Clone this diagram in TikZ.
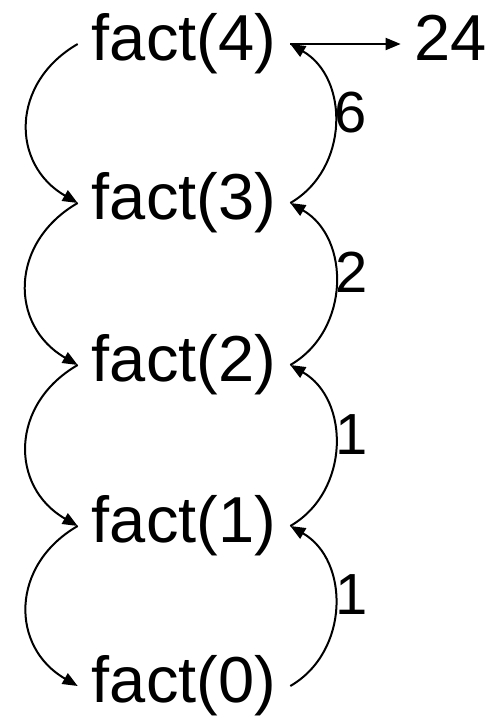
\documentclass[tikz,border=0pt]{standalone}
\usepackage{fontspec}
\setmainfont{Liberation Sans}
\usetikzlibrary{arrows.meta}

\begin{document}
\begin{tikzpicture}[x=1pt, y=1pt,
  fact/.style={inner xsep=14pt, inner ysep=0pt, font=\fontsize{65}{70}\selectfont},
  val/.style={inner sep=0pt, anchor=west, font=\fontsize{58}{62}\selectfont},
  arr/.style={line width=2pt, -{Triangle[length=15pt,width=12pt]}},
  calldown/.style={arr, out=210, in=150, looseness=1.25},
  retup/.style={arr, out=30, in=-30, looseness=1.1}]
\useasboundingbox (0,0) rectangle (500,-716);

% Calls
\node[fact] (f4) at (184,-44) {fact(4)};
\node[fact] (f3) at (184,-203) {fact(3)};
\node[fact] (f2) at (184,-365) {fact(2)};
\node[fact] (f1) at (184,-526) {fact(1)};
\node[fact] (f0) at (184,-686) {fact(0)};

% Final result
\node[fact, anchor=base] (res) at (451,-60) {24};

% Recursive calls (left side)
\draw[calldown] (f4.west) to (f3.west);
\draw[calldown] (f3.west) to (f2.west);
\draw[calldown] (f2.west) to (f1.west);
\draw[calldown] (f1.west) to (f0.west);

% Returned values (right side)
\draw[retup] (f0.east) to node[val, pos=0.56] {1} (f1.east);
\draw[retup] (f1.east) to node[val, pos=0.56] {1} (f2.east);
\draw[retup] (f2.east) to node[val, pos=0.56] {2} (f3.east);
\draw[retup] (f3.east) to node[val, pos=0.56] {6} (f4.east);

% Result arrow
\draw[arr] (f4.east) -- (f4.east -| res.west);

\end{tikzpicture}
\end{document}
